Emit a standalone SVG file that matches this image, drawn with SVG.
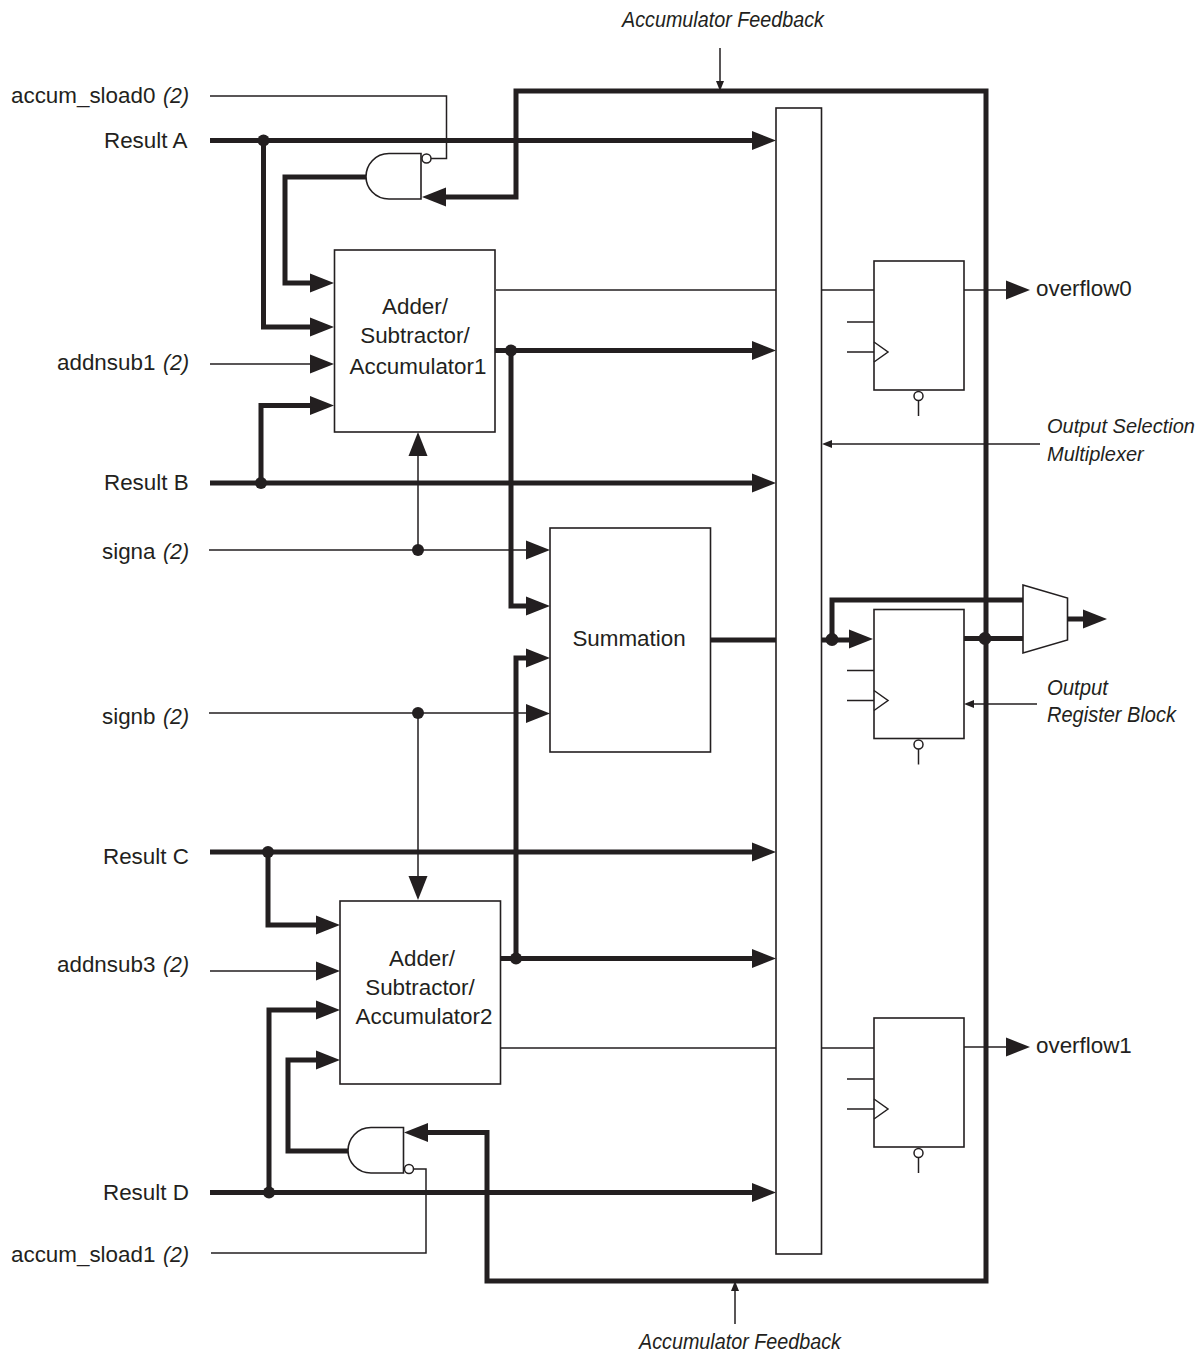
<svg xmlns="http://www.w3.org/2000/svg" width="1201" height="1353" viewBox="0 0 1201 1353">
<style>
text{font-family:"Liberation Sans",Arial,sans-serif;font-size:22.400px;fill:#231f20}
.i{font-style:italic;font-size:22px}
.j{font-style:italic;font-size:20px}
.m{text-anchor:middle}
.n{fill:#fff;stroke:#231f20;stroke-width:1.6}
.t{fill:none;stroke:#231f20;stroke-width:5}
.f{fill:none;stroke:#231f20;stroke-width:1.5}
.b{fill:#fff;stroke:#231f20;stroke-width:1.5}
.d{fill:#231f20}
.h{fill:#231f20}
</style>
<defs>
<path id="ar" class="h" d="M0 0L-24 -9.500V9.500Z"/>
<path id="sa" class="h" d="M0 0L-10 -4V4Z"/>
<g id="reg">
<rect class="n" x="0" y="0" width="90" height="129"/>
<path class="f" d="M-27 61H0M-27 91H0M0 81L14 91L0 101"/>
<circle class="b" cx="44.500" cy="135" r="4.500"/>
<path class="f" d="M44.500 139.500V155"/>
</g>
</defs>
<g id="connectors">
<path class="f" d="M210 96H446.500V158.500H431"/>
<path class="f" d="M413 1169H426V1253H211"/>
<path class="t" d="M210 140.500H755M263.500 140.500V327H315"/>
<path class="t" d="M366 177H285V283H315"/>
<path class="t" d="M441 197H516V91H986V1281H487V1132.500H425"/>
<path class="t" d="M210 483H755M315 405.500H261V483"/>
<path class="t" d="M495 350.500H755M511 350.500V606H530"/>
<path class="t" d="M210 852H755M268 852V925H320"/>
<path class="t" d="M500 958.500H755M516 958.500V658H530"/>
<path class="t" d="M320 1060H288V1151H348"/>
<path class="t" d="M269 1192.500V1010H320M210 1192.500H755"/>
<path class="t" d="M710 640H776M822 640H855M832 640V600H1023M963 638.500H1023M1067 619H1085"/>
<path class="f" d="M210 364H315M209 550H530M418 550V452M209 713H530M418 713V880M210 971H320"/>
<path class="f" d="M496 290H874M500 1048H874M964 290H1010M964 1047H1010"/>
<path class="f" d="M1040 444H830M1037 704H972M720 48V82M735 1324V1290"/>
<use href="#ar" x="776" y="140.500"/>
<use href="#ar" x="776" y="350.500"/>
<use href="#ar" x="776" y="483"/>
<use href="#ar" x="776" y="852"/>
<use href="#ar" x="776" y="958.500"/>
<use href="#ar" x="776" y="1192.500"/>
<use href="#ar" x="334" y="283"/>
<use href="#ar" x="334" y="327"/>
<use href="#ar" x="334" y="364"/>
<use href="#ar" x="334" y="405.500"/>
<use href="#ar" x="340" y="925"/>
<use href="#ar" x="340" y="971"/>
<use href="#ar" x="340" y="1010"/>
<use href="#ar" x="340" y="1060"/>
<use href="#ar" x="550" y="550"/>
<use href="#ar" x="550" y="606"/>
<use href="#ar" x="550" y="658"/>
<use href="#ar" x="550" y="713.500"/>
<use href="#ar" x="873" y="639"/>
<use href="#ar" x="1030" y="290"/>
<use href="#ar" x="1030" y="1047"/>
<use href="#ar" x="1107" y="619"/>
<use href="#ar" x="422" y="197" transform="rotate(180 422 197)"/>
<use href="#ar" x="404" y="1132.500" transform="rotate(180 404 1132.500)"/>
<use href="#ar" x="418" y="432" transform="rotate(-90 418 432)"/>
<use href="#ar" x="418" y="900" transform="rotate(90 418 900)"/>
<use href="#sa" x="822" y="444" transform="rotate(180 822 444)"/>
<use href="#sa" x="964" y="704" transform="rotate(180 964 704)"/>
<use href="#sa" x="720" y="91" transform="rotate(90 720 91)"/>
<use href="#sa" x="735" y="1281" transform="rotate(-90 735 1281)"/>
<circle class="d" cx="263.500" cy="140.500" r="6"/>
<circle class="d" cx="511" cy="350.500" r="6"/>
<circle class="d" cx="261" cy="483" r="6"/>
<circle class="d" cx="418" cy="550" r="6"/>
<circle class="d" cx="418" cy="713" r="6"/>
<circle class="d" cx="268" cy="852" r="6"/>
<circle class="d" cx="516" cy="958.500" r="6"/>
<circle class="d" cx="269" cy="1192.500" r="6"/>
<circle class="d" cx="832" cy="639.500" r="6.500"/>
<circle class="d" cx="985" cy="638.500" r="6.500"/>
</g>
<g id="mux-select"><rect class="n" x="776" y="108" width="45.500" height="1146"/></g>
<g id="adder1"><rect class="n" x="334.500" y="250" width="160.500" height="182"/>
<text class="m" x="415" y="314">Adder/</text><text class="m" x="415" y="343">Subtractor/</text><text class="m" x="418" y="374">Accumulator1</text></g>
<g id="adder2"><rect class="n" x="340" y="901" width="160.500" height="183"/>
<text class="m" x="422" y="966">Adder/</text><text class="m" x="420" y="995">Subtractor/</text><text class="m" x="424" y="1024">Accumulator2</text></g>
<g id="summation"><rect class="n" x="550" y="528" width="160.500" height="224"/>
<text class="m" x="629" y="646">Summation</text></g>
<g id="gate1"><path class="n" d="M421 153.500H389C375 153.500 366 165 366 176.500C366 188 375 199 389 199H421Z"/><circle class="b" cx="426.500" cy="158.500" r="4.500"/></g>
<g id="gate2"><path class="n" d="M403.500 1127.500H371C357 1127.500 348 1139 348 1150.500C348 1162 357 1173 371 1173H403.500Z"/><circle class="b" cx="409" cy="1169" r="4.500"/></g>
<g id="reg0"><use href="#reg" x="874" y="261"/></g>
<g id="reg1"><use href="#reg" x="874" y="609.500"/></g>
<g id="reg2"><use href="#reg" x="874" y="1018"/></g>
<g id="outmux"><path class="n" d="M1023 585L1067.500 598V640L1023 653Z"/></g>
<g id="labels">
<text class="i" x="622" y="27" textLength="202" lengthAdjust="spacingAndGlyphs">Accumulator Feedback</text>
<text class="i" x="639" y="1349" textLength="202" lengthAdjust="spacingAndGlyphs">Accumulator Feedback</text>
<text x="11" y="103">accum_sload0 <tspan class="i" x="163" textLength="26" lengthAdjust="spacingAndGlyphs">(2)</tspan></text>
<text x="104" y="148">Result A</text>
<text x="57" y="370">addnsub1 <tspan class="i" x="163" textLength="26" lengthAdjust="spacingAndGlyphs">(2)</tspan></text>
<text x="104" y="490">Result B</text>
<text x="102" y="559">signa <tspan class="i" x="163" textLength="26" lengthAdjust="spacingAndGlyphs">(2)</tspan></text>
<text x="102" y="724">signb <tspan class="i" x="163" textLength="26" lengthAdjust="spacingAndGlyphs">(2)</tspan></text>
<text x="103" y="864">Result C</text>
<text x="57" y="972">addnsub3 <tspan class="i" x="163" textLength="26" lengthAdjust="spacingAndGlyphs">(2)</tspan></text>
<text x="103" y="1200">Result D</text>
<text x="11" y="1262">accum_sload1 <tspan class="i" x="163" textLength="26" lengthAdjust="spacingAndGlyphs">(2)</tspan></text>
<text x="1036" y="296">overflow0</text>
<text x="1036" y="1053">overflow1</text>
<text class="j" x="1047" y="433">Output Selection</text>
<text class="j" x="1047" y="461">Multiplexer</text>
<text class="i" x="1047" y="695" textLength="61" lengthAdjust="spacingAndGlyphs">Output</text>
<text class="i" x="1047" y="722" textLength="129" lengthAdjust="spacingAndGlyphs">Register Block</text>
</g>
</svg>
